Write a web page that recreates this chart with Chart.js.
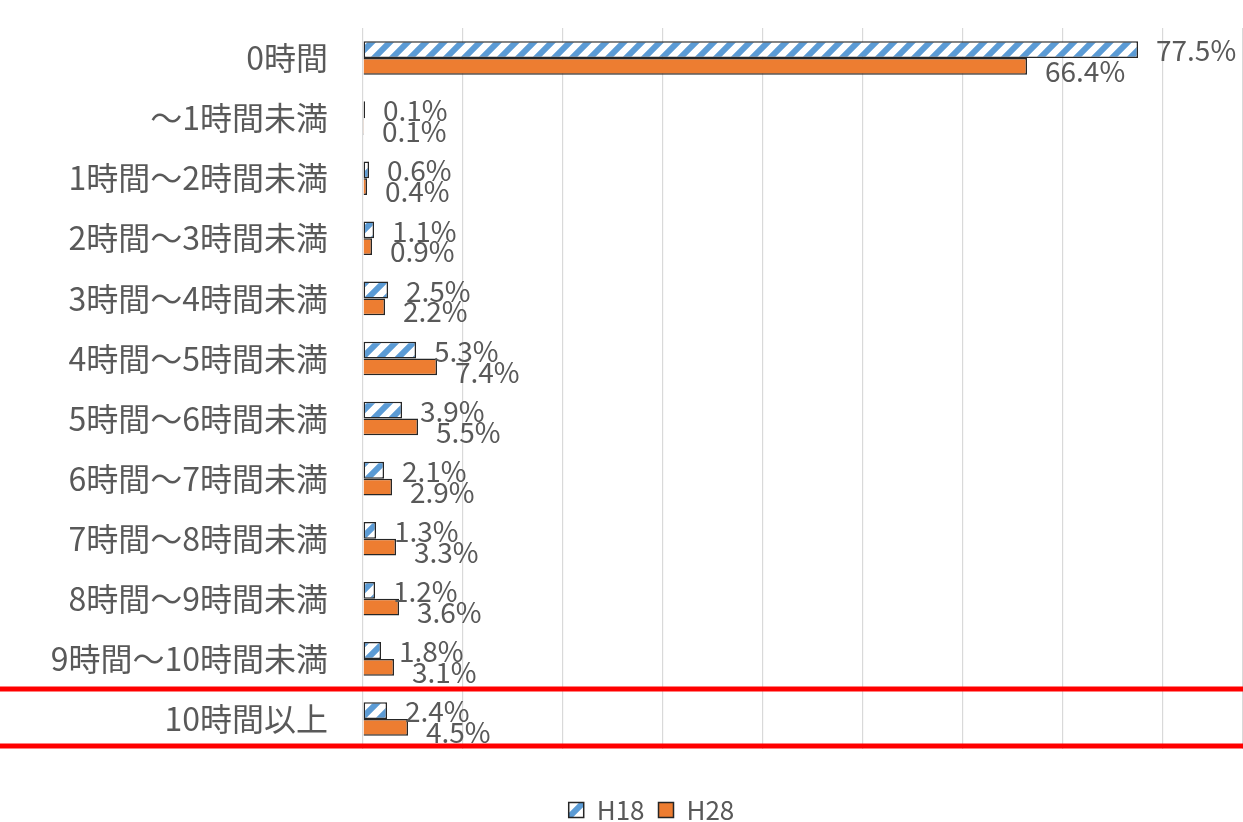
<!DOCTYPE html>
<html>
<head>
<meta charset="utf-8">
<script src="https://cdn.jsdelivr.net/npm/chart.js@4/dist/chart.umd.min.js"></script>
<style>
  html, body { margin: 0; padding: 0; background: #fff; }
  #wrap { width: 1243px; height: 822px; }
</style>
</head>
<body>
<div id="wrap"><canvas id="sleepChart"></canvas></div>
<script>
// categories (hours)
const categories = ['0時間', '～1時間未満', '1時間～2時間未満', '2時間～3時間未満', '3時間～4時間未満',
    '4時間～5時間未満', '5時間～6時間未満', '6時間～7時間未満', '7時間～8時間未満',
    '8時間～9時間未満', '9時間～10時間未満', '10時間以上'];
const h18Values = [77.5, 0.1, 0.6, 1.1, 2.5, 5.3, 3.9, 2.1, 1.3, 1.2, 1.8, 2.4];
const h28Values = [66.4, 0.1, 0.4, 0.9, 2.2, 7.4, 5.5, 2.9, 3.3, 3.6, 3.1, 4.5];
const seriesNames = ['H18', 'H28'];

const textColor = '#595959';
const fontFamily = '"Noto Sans CJK JP", "Noto Sans", sans-serif';

// diagonal blue stripes for H18
function makeHatch() {
    const c = document.createElement('canvas');
    c.width = 18; c.height = 18;
    const g = c.getContext('2d');
    g.fillStyle = '#fff';
    g.fillRect(0, 0, 18, 18);
    g.strokeStyle = '#5b9bd5';
    g.lineWidth = 6;
    g.beginPath();
    g.moveTo(-5, 23); g.lineTo(23, -5);
    g.moveTo(-14, 14); g.lineTo(14, -14);
    g.moveTo(4, 32); g.lineTo(32, 4);
    g.stroke();
    return g.createPattern(c, 'repeat');
}

// value labels next to each bar
const valueLabels = {
    id: 'valueLabels',
    afterDatasetsDraw(chart) {
        const ctx = chart.ctx;
        ctx.save();
        ctx.font = '28px ' + fontFamily;
        ctx.fillStyle = textColor;
        ctx.textBaseline = 'middle';
        ctx.textAlign = 'left';
        chart.data.datasets.forEach((ds, i) => {
            const meta = chart.getDatasetMeta(i);
            meta.data.forEach((bar, j) => {
                const yOff = i === 0 ? 1 : 5;
                ctx.fillText(ds.data[j].toFixed(1) + '%', bar.x + 18, bar.y + yOff);
            });
        });
        ctx.restore();
    }
};

// red lines framing the last row
const redFrame = {
    id: 'redFrame',
    afterDraw(chart) {
        const ctx = chart.ctx;
        const y = chart.scales.y;
        const step = y.getPixelForValue(1) - y.getPixelForValue(0);
        const last = categories.length - 1;
        const top = y.getPixelForValue(last) - step / 2;
        const bottom = y.getPixelForValue(last) + step / 2 - 3;
        ctx.save();
        ctx.strokeStyle = '#ff0000';
        ctx.lineWidth = 5;
        ctx.beginPath();
        ctx.moveTo(0, top); ctx.lineTo(chart.width, top);
        ctx.moveTo(0, bottom); ctx.lineTo(chart.width, bottom);
        ctx.stroke();
        ctx.restore();
    }
};

// move the legend a little lower and to the right
const legendShift = {
    id: 'legendShift',
    afterLayout(chart) {
        const lg = chart.legend;
        if (lg) {
            lg.top += 11;
            lg.bottom += 11;
            lg.left += 30;
            lg.right += 30;
        }
    }
};

const ctx = document.getElementById('sleepChart').getContext('2d');
const chart = new Chart(ctx, {
    type: 'bar',
    data: {
        labels: categories,
        datasets: [{
            label: seriesNames[0],
            data: h18Values,
            backgroundColor: makeHatch(),
            borderColor: '#262626',
            borderWidth: 1.5,
            borderSkipped: false,
            minBarLength: 2,
            barPercentage: 1,
            categoryPercentage: 0.56
        }, {
            label: seriesNames[1],
            data: h28Values,
            backgroundColor: '#ed7d31',
            borderColor: '#262626',
            borderWidth: 1.5,
            borderSkipped: 'start',
            barPercentage: 1,
            categoryPercentage: 0.56
        }]
    },
    options: {
        indexAxis: 'y',
        responsive: true,
        maintainAspectRatio: false,
        animation: false,
        layout: { padding: { top: 28, right: 0, left: 0, bottom: 0 } },
        scales: {
            x: {
                min: 0,
                max: 88,
                ticks: { display: false, stepSize: 10 },
                grid: { color: '#d9d9d9', lineWidth: 1.2, drawTicks: false },
                border: { display: false },
                afterFit(scale) { scale.height = 23; scale.paddingLeft = 0; scale.paddingRight = 0; }
            },
            y: {
                grid: { display: false },
                border: { display: false },
                ticks: {
                    color: textColor,
                    padding: 27,
                    font: { family: fontFamily, size: 32 }
                },
                afterFit(scale) { scale.width = 363; scale.paddingTop = 0; scale.paddingBottom = 0; }
            }
        },
        plugins: {
            tooltip: { enabled: false },
            legend: {
                position: 'bottom',
                labels: {
                    color: textColor,
                    boxWidth: 15,
                    boxHeight: 15,
                    padding: 14,
                    font: { family: fontFamily, size: 26 }
                }
            }
        }
    },
    plugins: [valueLabels, redFrame, legendShift]
});
</script>
</body>
</html>
